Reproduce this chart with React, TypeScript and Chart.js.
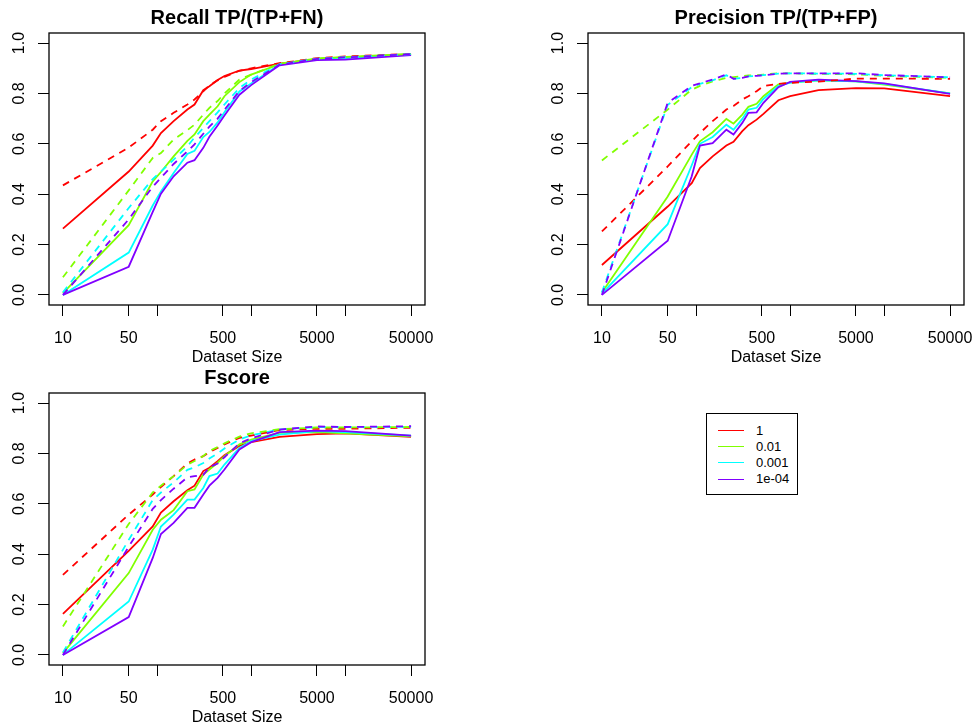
import React, { useEffect, useRef } from "react";
import { Chart, registerables } from "chart.js";
Chart.register(...registerables);

// ---------- data ----------
const DATASET_SIZES = [10, 50, 90, 110, 150, 210, 250, 310, 360, 440, 520, 750, 1000, 2000, 5000, 10000, 50000];
const X_TICKS = [10, 50, 100, 500, 1000, 5000, 10000, 50000];
const X_TICK_LABELS = ["10", "50", "", "500", "", "5000", "", "50000"];
const Y_TICKS = [0, 0.2, 0.4, 0.6, 0.8, 1.0];
const LEGEND_LABELS = ["1", "0.01", "0.001", "1e-04"];
const SERIES_COLORS = ["#FF0000", "#80FF00", "#00FFFF", "#8000FF"];

// Recall
const recall_1_solid = [0.263, 0.49, 0.593, 0.643, 0.69, 0.736, 0.756, 0.813, 0.829, 0.853, 0.869, 0.891, 0.897, 0.918, 0.936, 0.942, 0.955];
const recall_001_solid = [0.007, 0.277, 0.451, 0.488, 0.55, 0.612, 0.637, 0.69, 0.716, 0.749, 0.789, 0.845, 0.875, 0.915, 0.937, 0.943, 0.955];
const recall_0001_solid = [0.0, 0.168, 0.355, 0.411, 0.484, 0.56, 0.572, 0.627, 0.647, 0.685, 0.725, 0.808, 0.84, 0.915, 0.935, 0.94, 0.954];
const recall_1e4_solid = [0.0, 0.112, 0.33, 0.402, 0.471, 0.525, 0.535, 0.584, 0.628, 0.673, 0.712, 0.795, 0.833, 0.912, 0.932, 0.934, 0.952];
const recall_1_dashed = [0.435, 0.585, 0.656, 0.69, 0.723, 0.756, 0.776, 0.808, 0.832, 0.852, 0.866, 0.89, 0.9, 0.92, 0.94, 0.947, 0.957];
const recall_001_dashed = [0.07, 0.415, 0.544, 0.563, 0.617, 0.654, 0.676, 0.716, 0.743, 0.77, 0.8, 0.855, 0.875, 0.918, 0.939, 0.945, 0.957];
const recall_0001_dashed = [0.01, 0.345, 0.46, 0.49, 0.537, 0.59, 0.625, 0.663, 0.69, 0.725, 0.756, 0.822, 0.855, 0.916, 0.938, 0.944, 0.956];
const recall_1e4_dashed = [0.0, 0.3, 0.43, 0.465, 0.52, 0.57, 0.598, 0.64, 0.668, 0.7, 0.735, 0.81, 0.845, 0.914, 0.937, 0.943, 0.956];

// Precision
const precision_1_solid = [0.119, 0.351, 0.444, 0.504, 0.55, 0.593, 0.608, 0.65, 0.674, 0.696, 0.719, 0.773, 0.789, 0.813, 0.821, 0.82, 0.789];
const precision_001_solid = [0.01, 0.391, 0.557, 0.61, 0.646, 0.699, 0.68, 0.716, 0.747, 0.759, 0.789, 0.836, 0.843, 0.852, 0.848, 0.835, 0.8];
const precision_0001_solid = [0.005, 0.281, 0.515, 0.6, 0.627, 0.676, 0.656, 0.699, 0.736, 0.743, 0.778, 0.829, 0.843, 0.852, 0.848, 0.838, 0.8];
const precision_1e4_solid = [0.0, 0.215, 0.471, 0.593, 0.603, 0.656, 0.637, 0.683, 0.723, 0.725, 0.763, 0.825, 0.846, 0.855, 0.849, 0.84, 0.798];
const precision_1_dashed = [0.252, 0.51, 0.61, 0.643, 0.69, 0.736, 0.75, 0.776, 0.789, 0.809, 0.829, 0.838, 0.842, 0.847, 0.859, 0.859, 0.858];
const precision_001_dashed = [0.534, 0.736, 0.815, 0.83, 0.848, 0.862, 0.865, 0.868, 0.872, 0.872, 0.875, 0.88, 0.88, 0.878, 0.876, 0.87, 0.862];
const precision_0001_dashed = [0.01, 0.755, 0.825, 0.838, 0.852, 0.872, 0.858, 0.862, 0.868, 0.87, 0.873, 0.879, 0.88, 0.879, 0.878, 0.872, 0.864];
const precision_1e4_dashed = [0.0, 0.763, 0.83, 0.84, 0.855, 0.876, 0.858, 0.862, 0.868, 0.87, 0.872, 0.878, 0.88, 0.88, 0.88, 0.873, 0.864];

// Fscore
const fscore_1_solid = [0.163, 0.413, 0.51, 0.565, 0.61, 0.654, 0.672, 0.73, 0.743, 0.769, 0.793, 0.83, 0.845, 0.866, 0.877, 0.88, 0.866];
const fscore_001_solid = [0.007, 0.325, 0.497, 0.537, 0.575, 0.65, 0.657, 0.716, 0.736, 0.763, 0.789, 0.836, 0.855, 0.882, 0.885, 0.88, 0.868];
const fscore_0001_solid = [0.0, 0.212, 0.418, 0.51, 0.557, 0.617, 0.617, 0.663, 0.71, 0.72, 0.756, 0.822, 0.849, 0.875, 0.889, 0.885, 0.871];
const fscore_1e4_solid = [0.0, 0.15, 0.385, 0.48, 0.524, 0.584, 0.584, 0.637, 0.672, 0.703, 0.736, 0.816, 0.845, 0.885, 0.891, 0.889, 0.871];
const fscore_1_dashed = [0.318, 0.557, 0.637, 0.667, 0.71, 0.76, 0.776, 0.789, 0.805, 0.822, 0.836, 0.862, 0.871, 0.893, 0.898, 0.898, 0.902];
const fscore_001_dashed = [0.113, 0.52, 0.645, 0.672, 0.71, 0.755, 0.77, 0.79, 0.81, 0.825, 0.84, 0.867, 0.88, 0.896, 0.903, 0.903, 0.905];
const fscore_0001_dashed = [0.01, 0.457, 0.615, 0.645, 0.685, 0.735, 0.745, 0.762, 0.78, 0.8, 0.82, 0.855, 0.872, 0.895, 0.905, 0.905, 0.906];
const fscore_1e4_dashed = [0.0, 0.43, 0.58, 0.615, 0.66, 0.705, 0.71, 0.715, 0.745, 0.76, 0.785, 0.84, 0.86, 0.895, 0.907, 0.905, 0.908];

// ---------- layout ----------
const FONT = "'Liberation Sans', Arimo, Arial, Helvetica, sans-serif";
const CELL_H = 363;
const AREA_L = 49;
const AREA_R = 425;
const AREA_T = 33;
const AREA_B = 305;
const LOG_MIN = Math.pow(10, 1 - 0.04 * Math.log10(5000));
const LOG_MAX = Math.pow(10, Math.log10(50000) + 0.04 * Math.log10(5000));

type PanelProps = {
  title: string;
  solid: number[][];
  dashed: number[][];
  left: number;
  top: number;
  width: number;
};

function Panel({ title, solid, dashed, left, top, width }: PanelProps) {
  const ref = useRef<HTMLCanvasElement | null>(null);
  useEffect(() => {
    if (!ref.current) return;
    const toPoints = (vals: number[]) => DATASET_SIZES.map((x, i) => ({ x, y: vals[i] }));
    const drawOrder = [
      ...solid.map((v, i) => ({ v, color: SERIES_COLORS[i], dash: [] as number[], label: LEGEND_LABELS[i] })),
      ...dashed.map((v, i) => ({ v, color: SERIES_COLORS[i], dash: [7, 6], label: LEGEND_LABELS[i] + " (dashed)" })),
    ];
    // Chart.js paints dataset 0 last (on top); reverse so later series sit on top
    const datasets = drawOrder
      .map((s) => ({
        label: s.label,
        data: toPoints(s.v),
        borderColor: s.color,
        backgroundColor: s.color,
        borderWidth: 1.8,
        borderDash: s.dash,
        pointRadius: 0,
        tension: 0,
        fill: false,
      }))
      .reverse();

    const tickFont = { family: FONT, size: 16 };
    const chart = new Chart(ref.current, {
      type: "line",
      data: { datasets },
      options: {
        animation: false,
        responsive: false,
        devicePixelRatio: 1,
        layout: { padding: { left: 0, top: AREA_T, right: width - AREA_R, bottom: 0 } },
        plugins: {
          legend: { display: false },
          tooltip: { enabled: false },
          title: { display: false },
        },
        scales: {
          x: {
            type: "logarithmic",
            min: LOG_MIN,
            max: LOG_MAX,
            afterBuildTicks: (s: any) => {
              s.ticks = X_TICKS.map((v) => ({ value: v }));
            },
            afterFit: (s: any) => {
              s.height = CELL_H - AREA_B;
              s.paddingLeft = 0;
              s.paddingRight = 0;
            },
            ticks: {
              autoSkip: false,
              maxRotation: 0,
              minRotation: 0,
              padding: 13,
              color: "#000",
              font: tickFont,
              callback: (_v: any, i: number) => X_TICK_LABELS[i],
            },
            grid: { drawOnChartArea: false, drawTicks: true, tickLength: 11, color: "#000", lineWidth: 1 },
            border: { display: false },
            title: {
              display: true,
              text: "Dataset Size",
              color: "#000",
              font: { family: FONT, size: 16, lineHeight: 0.7 },
              padding: 0,
            },
          },
          y: {
            type: "linear",
            min: -0.04,
            max: 1.04,
            afterBuildTicks: (s: any) => {
              s.ticks = Y_TICKS.map((v) => ({ value: v }));
            },
            afterFit: (s: any) => {
              s.width = AREA_L;
              s.paddingTop = 0;
              s.paddingBottom = 0;
            },
            ticks: {
              minRotation: 90,
              maxRotation: 90,
              crossAlign: "center",
              padding: 7,
              color: "#000",
              font: tickFont,
              callback: (v: any) => Number(v).toFixed(1),
            },
            grid: { drawOnChartArea: false, drawTicks: true, tickLength: 11, color: "#000", lineWidth: 1 },
            border: { display: false },
          },
        },
      },
      plugins: [
        {
          id: "rbox",
          afterDraw(c: any) {
            const { ctx, chartArea: a } = c;
            ctx.save();
            ctx.strokeStyle = "#000";
            ctx.lineWidth = 1.3;
            ctx.strokeRect(a.left, a.top, a.right - a.left, a.bottom - a.top);
            ctx.fillStyle = "#000";
            ctx.font = `bold 20px ${FONT}`;
            ctx.textAlign = "center";
            ctx.textBaseline = "middle";
            ctx.fillText(title, (a.left + a.right) / 2, 18.5);
            ctx.restore();
          },
        },
      ],
    } as any);
    return () => chart.destroy();
  }, []);
  return (
    <canvas
      ref={ref}
      width={width}
      height={CELL_H}
      style={{ position: "absolute", left, top, width, height: CELL_H, display: "block" }}
    />
  );
}

function Legend() {
  return (
    <div
      style={{
        position: "absolute",
        left: 706,
        top: 413,
        width: 92,
        height: 82,
        border: "1.3px solid #000",
        boxSizing: "border-box",
        fontFamily: FONT,
        fontSize: 13,
        color: "#000",
      }}
    >
      {LEGEND_LABELS.map((lab, i) => (
        <div key={lab} style={{ position: "absolute", left: 0, top: 16.5 + i * 16.3 - 8, height: 16, width: 90 }}>
          <div
            style={{
              position: "absolute",
              left: 11,
              top: 7.2,
              width: 26,
              height: 0,
              borderTop: `1.6px solid ${SERIES_COLORS[i]}`,
            }}
          />
          <span style={{ position: "absolute", left: 49, top: 0, lineHeight: "16px" }}>{lab}</span>
        </div>
      ))}
    </div>
  );
}

export default function App() {
  return (
    <div
      style={{
        position: "fixed",
        left: 0,
        top: 0,
        width: 973,
        height: 726,
        background: "#fff",
        overflow: "hidden",
      }}
    >
      <Panel
        title="Recall TP/(TP+FN)"
        solid={[recall_1_solid, recall_001_solid, recall_0001_solid, recall_1e4_solid]}
        dashed={[recall_1_dashed, recall_001_dashed, recall_0001_dashed, recall_1e4_dashed]}
        left={0}
        top={0}
        width={486}
      />
      <Panel
        title="Precision TP/(TP+FP)"
        solid={[precision_1_solid, precision_001_solid, precision_0001_solid, precision_1e4_solid]}
        dashed={[precision_1_dashed, precision_001_dashed, precision_0001_dashed, precision_1e4_dashed]}
        left={539}
        top={0}
        width={434}
      />
      <Panel
        title="Fscore"
        solid={[fscore_1_solid, fscore_001_solid, fscore_0001_solid, fscore_1e4_solid]}
        dashed={[fscore_1_dashed, fscore_001_dashed, fscore_0001_dashed, fscore_1e4_dashed]}
        left={0}
        top={360}
        width={486}
      />
      <Legend />
    </div>
  );
}
